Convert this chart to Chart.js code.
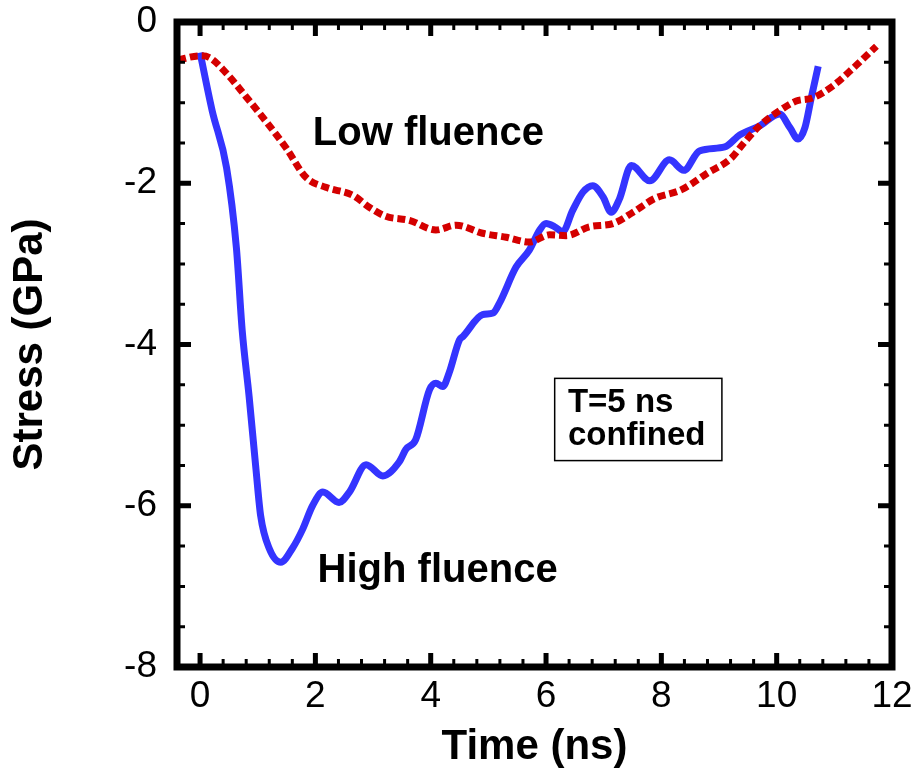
<!DOCTYPE html>
<html>
<head>
<meta charset="utf-8">
<script src="https://cdn.jsdelivr.net/npm/chart.js@4.4.1/dist/chart.umd.min.js"></script>
<style>
    html, body { margin: 0; padding: 0; background: #fff; }
    canvas { display: block; }
</style>
</head>
<body>
<canvas id="stressChart" width="919" height="773"></canvas>
<script>
// ===============================
// DATA
// ===============================

const highTime = [
    0, 0.21, 0.46, 0.63, 0.73, 0.85, 0.97, 1.05, 1.20,
    1.40, 1.60, 1.78, 1.95, 2.13, 2.41, 2.59, 2.88, 3.17, 3.45,
    3.57, 3.74, 3.98, 4.09, 4.21, 4.32, 4.50, 4.56, 4.90, 5.08,
    5.19, 5.48, 5.71, 5.89, 6.00, 6.15, 6.29, 6.46, 6.64, 6.81,
    6.99, 7.13, 7.27, 7.48, 7.80, 8.14, 8.39, 8.66, 9.10, 9.36,
    9.70, 10.05, 10.23, 10.37, 10.49, 10.60, 10.72
];
const highStress = [
    -0.38, -1.10, -1.81, -2.80, -3.82, -4.64, -5.55, -6.12, -6.53,
    -6.70, -6.53, -6.29, -6.00, -5.83, -5.96, -5.83, -5.49, -5.63, -5.46,
    -5.30, -5.18, -4.56, -4.48, -4.52, -4.35, -3.94, -3.90, -3.63, -3.61,
    -3.49, -3.04, -2.83, -2.58, -2.50, -2.54, -2.60, -2.34, -2.11, -2.03,
    -2.17, -2.36, -2.20, -1.78, -1.97, -1.71, -1.84, -1.60, -1.55, -1.40,
    -1.29, -1.14, -1.31, -1.45, -1.31, -0.94, -0.55
];

const lowTime = [
    -0.38, 0, 0.16, 0.45, 0.79, 1.14, 1.49, 1.84, 2.18, 2.65,
    2.94, 3.22, 3.63, 4.09, 4.44, 4.90, 5.31, 5.71, 6.06, 6.35,
    6.75, 7.16, 7.51, 7.88, 8.35, 8.81, 9.21, 9.42, 9.70, 10.05,
    10.34, 10.63, 10.98, 11.33, 11.73
];
const lowStress = [
    -0.47, -0.42, -0.44, -0.63, -0.92, -1.23, -1.56, -1.93, -2.05, -2.15,
    -2.30, -2.41, -2.46, -2.58, -2.52, -2.62, -2.67, -2.73, -2.64, -2.65,
    -2.54, -2.50, -2.36, -2.19, -2.08, -1.87, -1.69, -1.51, -1.29, -1.10,
    -0.98, -0.94, -0.79, -0.57, -0.30
];

const xTicks = [0, 2, 4, 6, 8, 10, 12];
const yTicks = [-8, -6, -4, -2, 0];

const toPoints = (xs, ys) => xs.map((v, i) => ({ x: v, y: ys[i] }));

// ===============================
// FRAME, INWARD TICKS, NOTES
// ===============================

const framePlugin = {
    id: 'frame',
    afterDraw(chart) {
        const { ctx, chartArea: a, scales: { x, y } } = chart;
        ctx.save();
        ctx.strokeStyle = '#000';
        ctx.lineCap = 'butt';

        // minor ticks
        ctx.lineWidth = 3;
        ctx.beginPath();
        for (let i = 1; i < 31; i++) {
            const v = -0.4 + i * 0.4;
            if (Math.abs(v / 2 - Math.round(v / 2)) < 1e-6) continue;
            const px = x.getPixelForValue(v);
            ctx.moveTo(px, a.bottom); ctx.lineTo(px, a.bottom - 8);
            ctx.moveTo(px, a.top); ctx.lineTo(px, a.top + 8);
        }
        for (let i = 1; i < 16; i++) {
            const v = -8 + i * 0.5;
            if (v % 2 === 0) continue;
            const py = y.getPixelForValue(v);
            ctx.moveTo(a.left, py); ctx.lineTo(a.left + 8, py);
            ctx.moveTo(a.right, py); ctx.lineTo(a.right - 8, py);
        }
        ctx.stroke();

        // major ticks
        ctx.lineWidth = 5;
        ctx.beginPath();
        xTicks.forEach(v => {
            const px = x.getPixelForValue(v);
            ctx.moveTo(px, a.bottom); ctx.lineTo(px, a.bottom - 14);
            ctx.moveTo(px, a.top); ctx.lineTo(px, a.top + 14);
        });
        yTicks.forEach(v => {
            const py = y.getPixelForValue(v);
            ctx.moveTo(a.left, py); ctx.lineTo(a.left + 14, py);
            ctx.moveTo(a.right, py); ctx.lineTo(a.right - 14, py);
        });
        ctx.stroke();

        // frame
        ctx.lineWidth = 7;
        ctx.strokeRect(a.left, a.top, a.right - a.left, a.bottom - a.top);

        // curve labels
        ctx.fillStyle = '#000';
        ctx.font = 'bold 40px "Liberation Sans", Arial, sans-serif';
        ctx.textAlign = 'center';
        ctx.textBaseline = 'middle';
        ctx.fillText('Low fluence', x.getPixelForValue(3.96), y.getPixelForValue(-1.39));
        ctx.fillText('High fluence', x.getPixelForValue(4.12), y.getPixelForValue(-6.81));

        // condition box
        const bx1 = x.getPixelForValue(6.15), bx2 = x.getPixelForValue(9.05);
        const by1 = y.getPixelForValue(-4.42), by2 = y.getPixelForValue(-5.44);
        ctx.lineWidth = 1.5;
        ctx.strokeRect(bx1, by1, bx2 - bx1, by2 - by1);
        ctx.font = 'bold 33px "Liberation Sans", Arial, sans-serif';
        ctx.textAlign = 'left';
        ctx.fillText('T=5 ns', x.getPixelForValue(6.38), y.getPixelForValue(-4.72));
        ctx.fillText('confined', x.getPixelForValue(6.38), y.getPixelForValue(-5.13));

        ctx.restore();
    }
};

// ===============================
// STRESS CHART
// ===============================

Chart.defaults.font.family = '"Liberation Sans", Arial, sans-serif';
Chart.defaults.color = '#000';

const stressCtx = document.getElementById('stressChart');

new Chart(stressCtx, {
    type: 'scatter',
    data: {
        datasets: [
            {
                label: 'Low fluence',
                data: toPoints(lowTime, lowStress),
                showLine: true,
                borderColor: '#d40000',
                borderWidth: 7,
                borderDash: [8, 4],
                borderCapStyle: 'butt',
                cubicInterpolationMode: 'monotone',
                pointRadius: 0
            },
            {
                label: 'High fluence',
                data: toPoints(highTime, highStress),
                showLine: true,
                borderColor: '#3434ff',
                borderWidth: 7,
                cubicInterpolationMode: 'monotone',
                pointRadius: 0
            }
        ]
    },
    options: {
        responsive: false,
        animation: false,
        layout: {
            padding: { top: 22, right: 27, bottom: 0, left: 0 }
        },
        plugins: {
            legend: { display: false },
            tooltip: { enabled: false }
        },
        scales: {
            x: {
                type: 'linear',
                min: -0.4,
                max: 12,
                afterBuildTicks: scale => {
                    scale.ticks = xTicks.map(v => ({ value: v }));
                },
                afterFit: scale => {
                    scale.height = 106;
                    scale.paddingLeft = 0;
                    scale.paddingRight = 0;
                },
                grid: { display: false, drawTicks: false },
                border: { display: false },
                ticks: {
                    padding: 8,
                    maxRotation: 0,
                    font: { size: 37 },
                    callback: v => String(v)
                },
                title: {
                    display: true,
                    text: 'Time (ns)',
                    font: { size: 42, weight: 'bold' },
                    padding: { top: 0, bottom: 0 }
                }
            },
            y: {
                type: 'linear',
                min: -8,
                max: 0,
                afterBuildTicks: scale => {
                    scale.ticks = yTicks.map(v => ({ value: v }));
                },
                afterFit: scale => {
                    scale.width = 177;
                    scale.paddingTop = 0;
                    scale.paddingBottom = 0;
                },
                grid: { display: false, drawTicks: false },
                border: { display: false },
                ticks: {
                    padding: 20,
                    font: { size: 37 },
                    callback: v => String(v)
                },
                title: {
                    display: true,
                    text: 'Stress (GPa)',
                    font: { size: 42, weight: 'bold' },
                    padding: { top: 5, bottom: 0 }
                }
            }
        }
    },
    plugins: [framePlugin]
});
</script>
</body>
</html>
